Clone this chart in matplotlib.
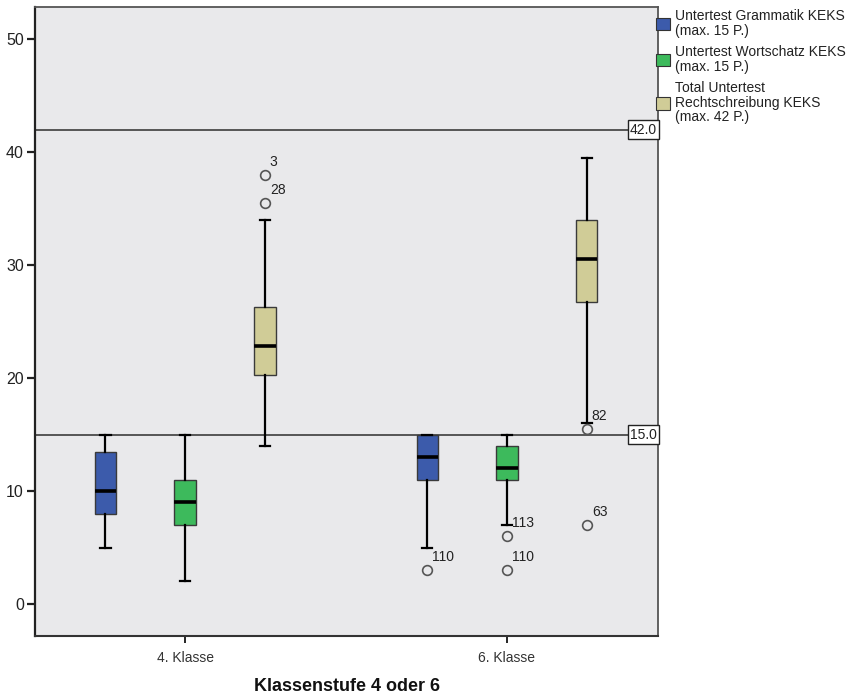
import matplotlib
matplotlib.use('Agg')
import matplotlib.pyplot as plt
import matplotlib.transforms as mtransforms
from matplotlib.patches import Patch

plt.rcParams['font.family'] = ['Liberation Sans', 'DejaVu Sans']

groups = ['4. Klasse', '6. Klasse']
series = ['Untertest Grammatik KEKS\n(max. 15 P.)',
          'Untertest Wortschatz KEKS\n(max. 15 P.)',
          'Total Untertest\nRechtschreibung KEKS\n(max. 42 P.)']
colors = ['#3c5bab', '#3dba5c', '#d0cc97']

# [series][group]
whislo = [[5, 5], [2, 7], [14, 16]]
q1 = [[8, 11], [7, 11], [20.3, 26.75]]
med = [[10, 13], [9, 12], [22.8, 30.5]]
q3 = [[13.5, 15], [11, 14], [26.25, 34]]
whishi = [[15, 15], [15, 15], [34, 39.5]]
fliers = [[[], [3]], [[], [6, 3]], [[38, 35.5], [15.5, 7]]]
flier_labels = [[[], ['110']], [[], ['113', '110']], [['3', '28'], ['82', '63']]]
ref_lines = [42.0, 15.0]
yticks = [0, 10, 20, 30, 40, 50]

fig = plt.figure(figsize=(8.67, 6.96), dpi=100)
ax = fig.add_axes([35/867, 1-636/696, (658-35)/867, (636-7)/696])
ax.set_facecolor('#e9e9eb')

group_pos = [0, 1]
offsets = [-0.248, 0.0, 0.248]
box_w = 0.066

for si in range(len(series)):
    stats = []
    pos = []
    for gi in range(len(groups)):
        stats.append(dict(med=med[si][gi], q1=q1[si][gi], q3=q3[si][gi],
                          whislo=whislo[si][gi], whishi=whishi[si][gi],
                          fliers=fliers[si][gi], label=''))
        pos.append(group_pos[gi] + offsets[si])
    ax.bxp(stats, positions=pos, widths=box_w, patch_artist=True,
           capwidths=box_w*0.5, manage_ticks=False,
           boxprops=dict(facecolor=colors[si], edgecolor='#3a3a3a', linewidth=1.0),
           medianprops=dict(color='black', linewidth=2.6),
           whiskerprops=dict(color='black', linewidth=1.6),
           capprops=dict(color='black', linewidth=1.6),
           flierprops=dict(marker='o', markerfacecolor='none', markeredgecolor='#555555',
                           markersize=7, markeredgewidth=1.2, linestyle='none'),
           zorder=3)
    for gi in range(len(groups)):
        for v, lbl in zip(fliers[si][gi], flier_labels[si][gi]):
            ax.annotate(lbl, (pos[gi], v), xytext=(5, 13), textcoords='offset pixels',
                        ha='left', va='center', fontsize=10, color='#222222', zorder=4)

trans = mtransforms.blended_transform_factory(ax.transAxes, ax.transData)
for r in ref_lines:
    ax.axhline(r, color='#4a4a4a', linewidth=1.3, zorder=2)
    ax.text(0.998, r, f'{r:.1f}', transform=trans, ha='right', va='center',
            fontsize=10, color='#222222', zorder=5,
            bbox=dict(boxstyle='square,pad=0.15', facecolor='white', edgecolor='#222222', linewidth=1.0))

ax.set_xlim(-0.466, 1.469)
ax.set_ylim(-2.83, 52.85)
ax.set_yticks(yticks)
ax.set_xticks(group_pos)
ax.set_xticklabels(groups, fontsize=10, color='#333333')
ax.tick_params(axis='y', length=6, width=1.6, labelsize=11.5, colors='#222222', pad=2)
ax.tick_params(axis='x', length=5, width=1.2, pad=6)
for s in ax.spines.values():
    s.set_color('#555555')
    s.set_linewidth(1.3)
ax.spines['left'].set_color('#222222')
ax.spines['left'].set_linewidth(1.6)
ax.spines['bottom'].set_color('#333333')
ax.spines['bottom'].set_linewidth(1.5)

ax.set_xlabel('Klassenstufe 4 oder 6', fontsize=13, fontweight='bold', labelpad=9, color='#111111')

handles = [Patch(facecolor=c, edgecolor='#333333', linewidth=0.8) for c in colors]
leg = fig.legend(handles, series, loc='upper left', bbox_to_anchor=(656/867, 1-9/696),
                 frameon=False, fontsize=10, handlelength=1.0, handleheight=1.0,
                 handletextpad=0.35, borderpad=0, borderaxespad=0, labelspacing=0.55)
for t in leg.get_texts():
    t.set_linespacing(1.05)
    t.set_color('#222222')

fig.savefig('out.png', dpi=100, facecolor='white')
